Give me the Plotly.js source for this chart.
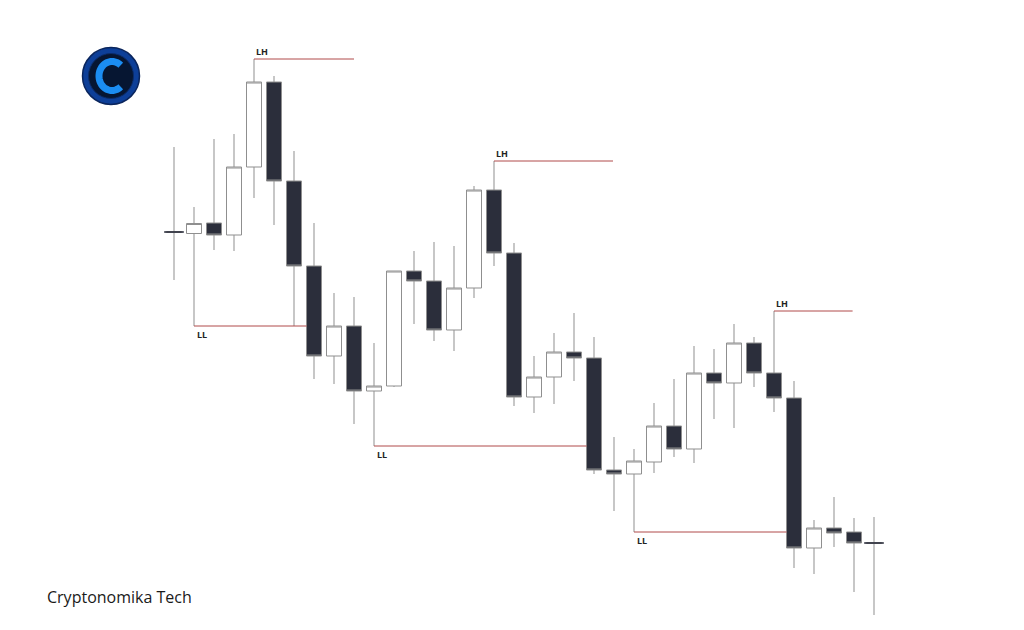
<!DOCTYPE html>
<html>
<head>
<meta charset="utf-8">
<script src="https://cdn.plot.ly/plotly-3.0.1.min.js"></script>
<style>
  html, body { margin: 0; padding: 0; background: #ffffff; }
  #chart { width: 1024px; height: 630px; }
</style>
</head>
<body>
<div id="chart"></div>
<script>
// ---- Candle data (price units; chart has no visible axis) ----
const openP  = [398, 396.5, 407, 395, 463, 548, 449, 364, 274, 304, 239, 244, 359, 349, 300, 342, 440, 377, 233, 253, 278, 272, 160, 156, 168, 204, 181, 257, 247, 287, 257, 232, 82, 102, 98, 87];
const highP  = [483, 423, 491, 496, 571, 554, 479, 407, 337, 333, 287, 359, 379, 388, 384, 444, 469, 387, 274, 297, 317, 293, 193, 181, 227, 251, 284, 281, 306, 293, 319, 249, 110, 133, 112, 113];
const lowP   = [350, 304, 380, 379, 432, 405, 304, 251, 246, 206, 184, 243, 306, 289, 279, 332, 364, 224, 217, 226, 249, 156, 119, 98, 157, 173, 167, 211, 202, 243, 218, 62, 56, 83, 38, 15];
const closeP = [398, 406.5, 395, 463, 548, 449, 364, 274, 304, 239, 244, 359, 349, 300, 342, 440, 377, 233, 253, 278, 272, 160, 156, 169, 204, 181, 257, 247, 287, 257, 232, 82, 102, 97, 87, 87];

// ---- Swing levels (LH = lower high, LL = lower low) ----
const levelLabels = ['LH', 'LL', 'LH', 'LL', 'LH', 'LL'];
const levelStart  = [4, 1, 16, 10, 30, 23];
const levelEnd    = [9, 6.63, 21.95, 20.63, 33.93, 30.63];
const levelPrice  = [571, 304, 469, 184, 319, 98];

const brandText = 'Cryptonomika Tech';

// ---- Styling ----
const DARK = '#2b2e3b';
const LEVEL = '#b04a4a';

const xIdx = openP.map((_, i) => i);

const traces = [];

traces.push({
  type: 'candlestick',
  x: xIdx,
  open: openP, high: highP, low: lowP, close: closeP,
  increasing: { line: { color: '#8f8f8f', width: 1 }, fillcolor: '#ffffff' },
  decreasing: { line: { color: '#8f8f8f', width: 1 }, fillcolor: DARK },
  whiskerwidth: 0,
  hoverinfo: 'skip',
  showlegend: false
});

// doji bodies (open == close) as short dark horizontal ticks
const dojiX = [], dojiY = [];
xIdx.forEach(i => { if (openP[i] === closeP[i]) { dojiX.push(i); dojiY.push(closeP[i]); } });
traces.push({
  type: 'scatter', mode: 'markers',
  x: dojiX, y: dojiY,
  marker: { symbol: 'line-ew', size: 14, line: { color: DARK, width: 1.6 } },
  hoverinfo: 'skip', showlegend: false
});

// swing level lines
const annotations = [];
levelLabels.forEach((lab, k) => {
  traces.push({
    type: 'scatter', mode: 'lines',
    x: [levelStart[k], levelEnd[k]],
    y: [levelPrice[k], levelPrice[k]],
    line: { color: LEVEL, width: 1 },
    hoverinfo: 'skip', showlegend: false
  });
  annotations.push({
    x: levelStart[k] + 0.4, y: levelPrice[k],
    xref: 'x', yref: 'y',
    text: '<b>' + lab + '</b>',
    showarrow: false,
    xanchor: 'center', yanchor: 'middle',
    yshift: lab === 'LH' ? 8 : -8,
    font: { family: 'Open Sans, sans-serif', size: 9, color: '#222222' }
  });
});

// brand text
annotations.push({
  x: 45 / 1024, y: 1 - 597 / 630, xref: 'paper', yref: 'paper',
  text: brandText, showarrow: false,
  xanchor: 'left', yanchor: 'middle',
  font: { family: 'Open Sans, sans-serif', size: 16, color: '#1a1a1a' }
});

// logo (decoration) in paper coordinates
const W = 1024, H = 630;
function px(x) { return x / W; }
function py(y) { return 1 - y / H; }
function circle(cx, cy, r, fill, lineColor, lw) {
  return { type: 'circle', xref: 'paper', yref: 'paper',
    x0: px(cx - r), x1: px(cx + r), y0: py(cy + r), y1: py(cy - r),
    fillcolor: fill, line: { color: lineColor, width: lw }, layer: 'above' };
}
const shapes = [
  circle(111, 76, 28.5, '#0d3f98', '#0a255c', 1.5),
  circle(111, 76, 22.5, '#061632', '#0b2c6a', 1)
];
// C glyph as thick arc
let d = '';
for (let a = 48; a <= 312; a += 6) {
  const rad = a * Math.PI / 180;
  const x = 112 + 13 * Math.cos(rad);
  const y = 76 - 14.5 * Math.sin(rad);
  d += (d === '' ? 'M ' : ' L ') + px(x).toFixed(5) + ',' + py(y).toFixed(5);
}
shapes.push({ type: 'path', xref: 'paper', yref: 'paper', path: d,
  line: { color: '#1b8df2', width: 7 }, layer: 'above' });

const layout = {
  width: 1024, height: 630,
  margin: { l: 0, r: 0, t: 0, b: 0, pad: 0 },
  paper_bgcolor: '#ffffff', plot_bgcolor: '#ffffff',
  showlegend: false,
  hovermode: false,
  boxgap: 0.25, boxgroupgap: 0,
  xaxis: { range: [-8.7, 42.5], visible: false, rangeslider: { visible: false }, fixedrange: true },
  yaxis: { range: [0, 630], visible: false, fixedrange: true },
  annotations: annotations,
  shapes: shapes
};

Plotly.newPlot('chart', traces, layout, { displayModeBar: false, staticPlot: true });
</script>
</body>
</html>
